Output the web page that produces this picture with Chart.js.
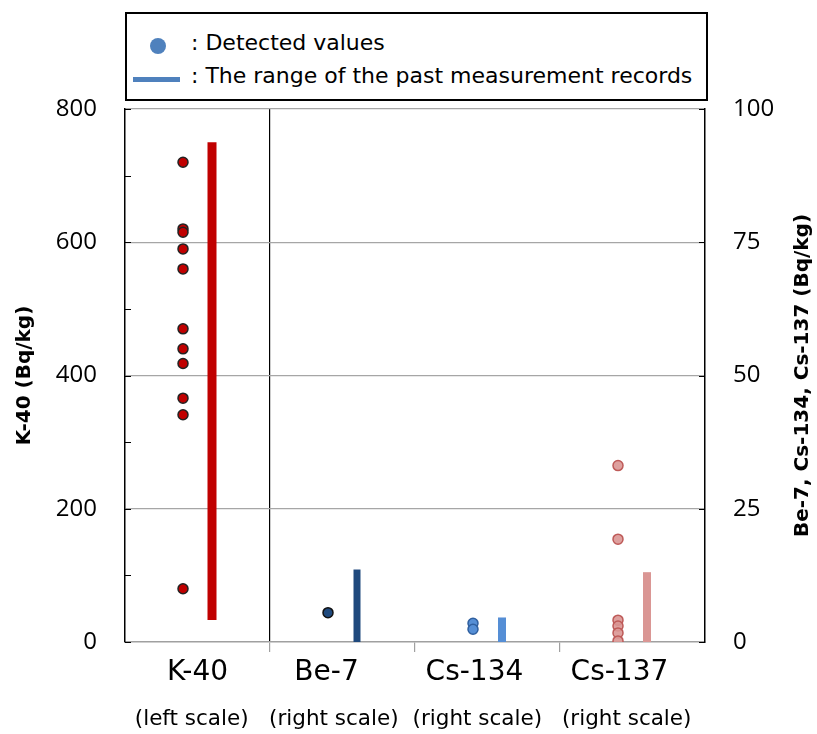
<!DOCTYPE html>
<html>
<head>
<meta charset="utf-8">
<script src="https://cdn.jsdelivr.net/npm/chart.js@4.4.1/dist/chart.umd.min.js"></script>
<style>
  html, body { margin: 0; padding: 0; background: #fff; }
  #wrap { position: relative; width: 817px; height: 734px; }
  #grafica { position: absolute; left: 0; top: 0; }
  #leyenda {
    position: absolute; left: 125px; top: 12px; width: 583px; height: 89px;
    border: 2px solid #000; box-sizing: border-box; background: #fff;
    font-family: "DejaVu Sans"; font-size: 22px; color: #000;
  }
  .punto { position: absolute; left: 23px; top: 24px; width: 16px; height: 16px; border-radius: 50%; background: #4F81BD; }
  .raya { position: absolute; left: 6px; top: 63px; width: 47px; height: 5px; background: #4F81BD; }
  .txt { position: absolute; left: 64px; line-height: 24px; white-space: nowrap; }
</style>
</head>
<body>
<div id="wrap">
  <canvas id="grafica" width="817" height="734"></canvas>
  <div id="leyenda">
    <div class="punto"></div>
    <div class="txt" style="top:17px">: Detected values</div>
    <div class="raya"></div>
    <div class="txt" style="top:50px">: The range of the past measurement records</div>
  </div>
</div>
<script>
// categorias y escalas
const categorias = ['K-40', 'Be-7', 'Cs-134', 'Cs-137'];
const escalas = ['(left scale)', '(right scale)', '(right scale)', '(right scale)'];
const ticksIzq = [0, 200, 400, 600, 800];
const ticksDer = [0, 25, 50, 75, 100];

// valores detectados (Bq/kg)
const k40Detectados = [720, 620, 615, 590, 560, 470, 440, 418, 366, 341, 80];
const be7Detectados = [5.5];
const cs134Detectados = [3.5, 2.4];
const cs137Detectados = [33.1, 19.3, 4.1, 3.0, 1.7, 0.2];

// rango de mediciones pasadas [min, max]
const k40Rango = [33, 750];
const be7Rango = [0, 13.6];
const cs134Rango = [0, 4.6];
const cs137Rango = [0, 13.1];

function puntos(i, valores, eje, relleno, borde) {
    return {
        type: 'scatter',
        yAxisID: eje,
        data: valores.map(v => ({x: i + 0.4, y: v})),
        pointRadius: 5,
        pointBackgroundColor: relleno,
        pointBorderColor: borde,
        pointBorderWidth: 1.5
    };
}

function rango(i, r, eje, color, ancho) {
    return {
        type: 'line',
        yAxisID: eje,
        data: [{x: i + 0.6, y: r[0]}, {x: i + 0.6, y: r[1]}],
        borderColor: color,
        borderWidth: ancho,
        borderCapStyle: 'butt',
        pointRadius: 0
    };
}

// donde van los textos del eje x (como en el original, no todos centrados)
const posNombres = [0.5, 1.39, 2.41, 3.41];
const posEscalas = [0.46, 1.44, 2.43, 3.46];
const divisiones = [0, 1, 2, 3, 4];

function etiqueta(lista, pos) {
    return v => {
        const i = pos.findIndex(p => Math.abs(p - v) < 1e-6);
        return i >= 0 ? lista[i] : '';
    };
}

const extras = {
    id: 'extras',
    afterDraw(chart) {
        const {ctx, chartArea: a, scales} = chart;
        ctx.save();
        ctx.strokeStyle = '#000';
        ctx.lineWidth = 1;
        scales.y.ticks.forEach(t => {
            const py = Math.round(scales.y.getPixelForValue(t.value)) + 0.5;
            ctx.beginPath(); ctx.moveTo(a.left, py); ctx.lineTo(a.left + 6, py); ctx.stroke();
        });
        ticksDer.forEach(v => {
            const py = Math.round(scales.y2.getPixelForValue(v)) + 0.5;
            ctx.beginPath(); ctx.moveTo(a.right, py); ctx.lineTo(a.right - 6, py); ctx.stroke();
        });
        // titulo derecho, leido de abajo hacia arriba
        ctx.translate(803, (a.top + a.bottom) / 2);
        ctx.rotate(-Math.PI / 2);
        ctx.font = 'bold 20px "DejaVu Sans"';
        ctx.textAlign = 'center';
        ctx.textBaseline = 'middle';
        ctx.fillStyle = '#000';
        ctx.fillText('Be-7, Cs-134, Cs-137 (Bq/kg)', 0, 0);
        ctx.restore();
    }
};

var ctx = document.getElementById('grafica').getContext('2d');
var myChart = new Chart(ctx, {
    type: 'scatter',
    data: {
        datasets: [
            rango(0, k40Rango, 'y', '#C00000', 9),
            rango(1, be7Rango, 'y2', '#1F497D', 7),
            rango(2, cs134Rango, 'y2', '#558ED5', 8),
            rango(3, cs137Rango, 'y2', '#DA9694', 8),
            puntos(0, k40Detectados, 'y', '#C00000', '#222'),
            puntos(1, be7Detectados, 'y2', '#1F497D', '#111'),
            puntos(2, cs134Detectados, 'y2', '#558ED5', '#2F5F9F'),
            puntos(3, cs137Detectados, 'y2', 'rgba(218,150,148,0.9)', '#BE5A58')
        ]
    },
    options: {
        responsive: false,
        animation: false,
        layout: { padding: { top: 109, left: 0, right: 0, bottom: 0 } },
        plugins: { legend: { display: false }, tooltip: { enabled: false } },
        scales: {
            x: {
                type: 'linear', position: 'bottom', min: 0, max: 4, weight: 0,
                afterBuildTicks: s => { s.ticks = divisiones.concat(posNombres).sort((a, b) => a - b).map(v => ({value: v})); },
                afterFit: s => { s.height = 50; },
                border: { color: '#a0a0a0', width: 1.5 },
                grid: {
                    drawOnChartArea: true,
                    tickLength: 10,
                    color: c => c.tick && c.tick.value === 1 ? '#000' : 'rgba(0,0,0,0)',
                    tickColor: c => c.tick && [1, 2, 3].includes(c.tick.value) ? '#a0a0a0' : 'rgba(0,0,0,0)',
                    lineWidth: 1.2
                },
                ticks: {
                    autoSkip: false, maxRotation: 0, padding: 4, color: '#000',
                    font: { family: 'DejaVu Sans', size: 28 },
                    callback: etiqueta(categorias, posNombres)
                }
            },
            x2: {
                type: 'linear', position: 'bottom', min: 0, max: 4, weight: 1,
                afterBuildTicks: s => { s.ticks = posEscalas.map(v => ({value: v})); },
                afterFit: s => { s.height = 42; },
                border: { display: false },
                grid: { display: false, drawTicks: false },
                ticks: {
                    autoSkip: false, maxRotation: 0, padding: 15, color: '#000',
                    font: { family: 'DejaVu Sans', size: 21.5 },
                    callback: etiqueta(escalas, posEscalas)
                }
            },
            y: {
                position: 'left', min: 0, max: 800,
                afterFit: s => { s.width = 125; },
                border: { color: '#000', width: 1.5 },
                grid: {
                    drawTicks: false,
                    color: c => c.tick && c.tick.value > 0 && ticksIzq.includes(c.tick.value) ? '#a6a6a6' : 'rgba(0,0,0,0)',
                    lineWidth: 1.2
                },
                ticks: {
                    stepSize: 100, padding: 28, color: '#000',
                    font: { family: 'Open Sans', size: 24 },
                    callback: v => ticksIzq.includes(v) ? v : ''
                },
                title: {
                    display: true, text: 'K-40 (Bq/kg)', color: '#000',
                    font: { family: 'DejaVu Sans', size: 20, weight: 'bold' },
                    padding: { top: 13, bottom: 0 }
                }
            },
            y2: {
                position: 'right', min: 0, max: 100,
                afterFit: s => { s.width = 112; },
                border: { color: '#000', width: 1.5 },
                grid: { drawOnChartArea: false, drawTicks: false },
                ticks: {
                    stepSize: 25, padding: 28, color: '#000',
                    font: { family: 'Open Sans', size: 24 },
                    callback: v => ticksDer.includes(v) ? v : ''
                }
            }
        }
    },
    plugins: [extras]
});
</script>
</body>
</html>
